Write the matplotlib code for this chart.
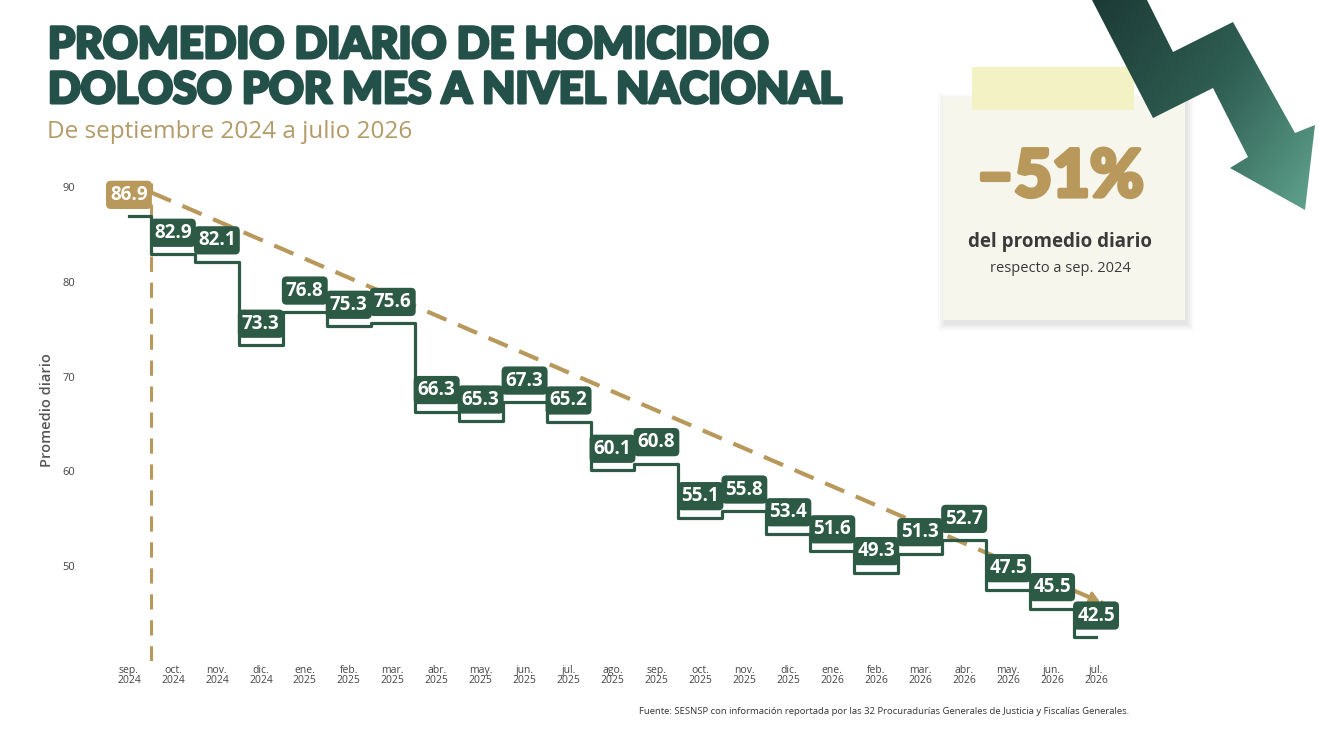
import numpy as np
import matplotlib
matplotlib.use('Agg')
import matplotlib.pyplot as plt
import matplotlib.patheffects as pe
from matplotlib.patches import Polygon, Rectangle

months = ['sep.', 'oct.', 'nov.', 'dic.', 'ene.', 'feb.', 'mar.', 'abr.', 'may.', 'jun.', 'jul.', 'ago.',
          'sep.', 'oct.', 'nov.', 'dic.', 'ene.', 'feb.', 'mar.', 'abr.', 'may.', 'jun.', 'jul.']
years = ['2024'] * 4 + ['2025'] * 12 + ['2026'] * 7
promedio = [86.9, 82.9, 82.1, 73.3, 76.8, 75.3, 75.6, 66.3, 65.3, 67.3, 65.2, 60.1,
            60.8, 55.1, 55.8, 53.4, 51.6, 49.3, 51.3, 52.7, 47.5, 45.5, 42.5]
trend_x = [0.52, 22.15]
trend_y = [89.4, 46.1]

GREEN = '#2d5a45'
GOLD = '#b8995b'
TITLE = '#24504a'

W, H = 1319, 736
fig = plt.figure(figsize=(W / 100, H / 100), dpi=100)
fig.patch.set_facecolor('white')

# main chart
ax = fig.add_axes([85 / W, 1 - 660.75 / H, 1055 / W, (660.75 - 158.6) / H])
x = np.arange(len(promedio))
ax.set_xlim(-1, 23)
ax.set_ylim(40, 93)
for s in ax.spines.values():
    s.set_visible(False)
ax.set_yticks([50, 60, 70, 80, 90])
ax.set_xticks(x)
ax.set_xticklabels([f'{m}\n{y}' for m, y in zip(months, years)], linespacing=0.85)
ax.tick_params(axis='x', length=0, labelsize=7.5, labelcolor='#444444', pad=3)
ax.tick_params(axis='y', length=0, labelsize=8, labelcolor='#444444', pad=7)
for t in ax.get_xticklabels() + ax.get_yticklabels():
    t.set_fontfamily('Open Sans')
ax.set_ylabel('Promedio diario', fontsize=10.5, color='#555555', family='Open Sans',
              fontweight='semibold', labelpad=6)

# vertical reference line and trend
ax.plot([0.5, 0.5], [40, 90.4], ls=(0, (5, 3.5)), lw=2.2, color=GOLD, zorder=1)
ax.plot(trend_x, trend_y, ls=(0, (5, 3)), lw=3, color=GOLD, zorder=1)
dx = trend_x[1] - trend_x[0]
dy = trend_y[1] - trend_y[0]
ax.annotate('', xy=(trend_x[1], trend_y[1]),
            xytext=(trend_x[1] - dx * 0.02, trend_y[1] - dy * 0.02),
            arrowprops=dict(arrowstyle='-|>,head_length=0.6,head_width=0.35', color=GOLD, lw=2), zorder=1)

ax.step(x, promedio, where='mid', color=GREEN, lw=2.3, zorder=2)

for i, v in enumerate(promedio):
    fc = GOLD if i == 0 else GREEN
    ax.annotate(f'{v:.1f}', xy=(i, v), xytext=(0, 15.5), textcoords='offset points',
                ha='center', va='center', fontsize=13.5, fontweight='bold', family='Open Sans',
                color='white', zorder=3,
                bbox=dict(boxstyle='round,pad=0.22,rounding_size=0.25', fc=fc, ec='none'))

# overlay in pixel coordinates
ov = fig.add_axes([0, 0, 1, 1], zorder=5)
ov.set_xlim(0, W)
ov.set_ylim(H, 0)
ov.axis('off')
ov.patch.set_alpha(0)

heavy = [pe.withStroke(linewidth=2.2, foreground=TITLE)]
ov.text(48, 58, 'PROMEDIO DIARIO DE HOMICIDIO', fontsize=31, fontweight='black', family='Lato',
        color=TITLE, va='baseline', path_effects=heavy)
ov.text(48, 103, 'DOLOSO POR MES A NIVEL NACIONAL', fontsize=31, fontweight='black', family='Lato',
        color=TITLE, va='baseline', path_effects=heavy)
ov.text(47, 138, 'De septiembre 2024 a julio 2026', fontsize=17.5, family='Open Sans',
        color='#b39a67', va='baseline')

ov.text(639, 711, 'Fuente: SESNSP con información reportada por las 32 Procuradurías Generales de Justicia y Fiscalías Generales.',
        fontsize=6.8, family='Open Sans', color='#333333', va='center')

# note card with shadow
for k, a in enumerate([0.04, 0.05, 0.06, 0.07]):
    g = 7 - 2 * k
    ov.add_patch(Rectangle((943 - g + 2, 97 - g + 4), 242 + 2 * g, 223 + 2 * g,
                           fc='#888888', ec='none', alpha=a, zorder=1))
ov.add_patch(Rectangle((943, 97), 242, 223, fc='#f7f6ed', ec='none', zorder=2))
ov.add_patch(Rectangle((972, 67), 162, 43, fc='#f3f2c2', ec='none', alpha=0.95, zorder=3))
ov.text(1060, 178, '–51%', fontsize=47, fontweight='black', family='Lato', color=GOLD,
        ha='center', va='center', zorder=4,
        path_effects=[pe.withStroke(linewidth=3, foreground=GOLD)])
ov.text(1060, 242, 'del promedio diario', fontsize=13.5, fontweight='bold', family='Open Sans',
        color='#3a3a3a', ha='center', va='center', zorder=4)
ov.text(1060, 268, 'respecto a sep. 2024', fontsize=10.5, family='Open Sans',
        color='#3a3a3a', ha='center', va='center', zorder=4)

# zigzag arrow with gradient
arrow_pts = [(1092, 0), (1147, 0), (1173, 52), (1233, 22), (1295, 133), (1315, 125),
             (1305, 210), (1230, 168), (1248, 157), (1213, 88), (1153, 118)]
poly = Polygon(arrow_pts, closed=True, fc='none', ec='none', zorder=5)
ov.add_patch(poly)
gx, gy = np.meshgrid(np.linspace(0, 1, 200), np.linspace(0, 1, 200))
grad = 0.6 * gx + 0.4 * gy
cmap = matplotlib.colors.LinearSegmentedColormap.from_list('arr', ['#1c3a35', '#2f5e52', '#62a690'])
im = ov.imshow(grad, extent=(1090, 1319, 212, 0), cmap=cmap, zorder=5, aspect='auto')
im.set_clip_path(poly)
ov.set_xlim(0, W)
ov.set_ylim(H, 0)

fig.savefig('out.png', dpi=100)
